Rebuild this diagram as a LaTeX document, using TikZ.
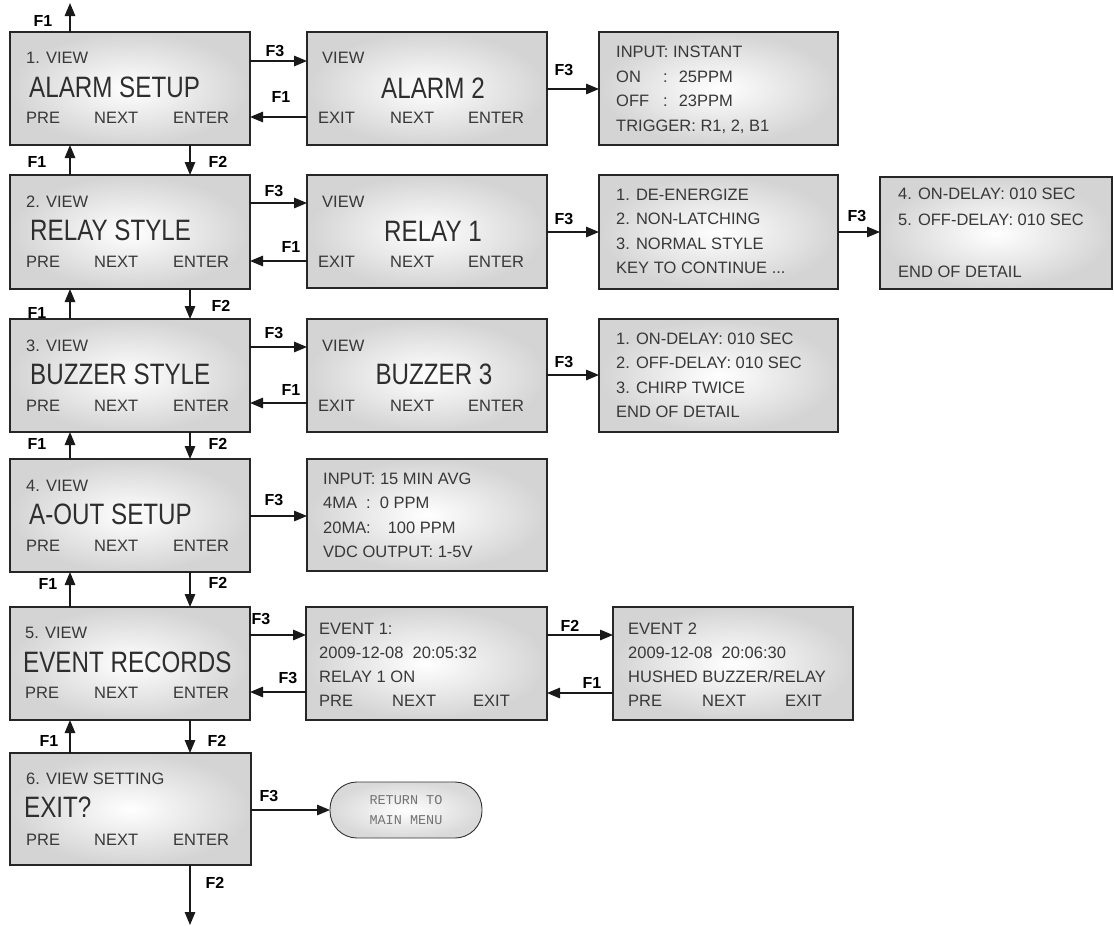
\documentclass[tikz,border=0pt]{standalone}
\usepackage{fontspec}
\setmainfont{Liberation Sans}
\newfontfamily\condf[FakeStretch=0.82]{Liberation Sans}
\newfontfamily\monof{Liberation Mono}
\usetikzlibrary{arrows.meta,calc}
\begin{document}
\begin{tikzpicture}[x=1pt,y=-1pt,
  box/.style={rectangle, draw=black!85, line width=1.3pt, inner color=white, outer color=black!17, inner sep=0pt, outer sep=0pt, anchor=north west},
  oval/.style={rectangle, rounded corners=27pt, draw=black!80, line width=0.9pt, inner color=white, outer color=black!15, inner sep=0pt, outer sep=0pt, anchor=north west, minimum width=152pt, minimum height=56pt},
  sm/.style={font=\fontsize{16.5}{20}\selectfont, text=black!78, anchor=base west, inner sep=0pt},
  big/.style={font=\condf\fontsize{29.5}{30}\selectfont, text=black!82, anchor=base west, inner sep=0pt},
  bigc/.style={big, anchor=base},
  mono/.style={font=\monof\fontsize{13.5}{14}\selectfont, text=black!55, inner sep=0pt},
  key/.style={font=\bfseries\fontsize{16}{18}\selectfont, inner sep=0pt},
  arr/.style={line width=1.4pt, draw=black!90, -{Triangle[length=13pt,width=10.5pt]}}
]
\useasboundingbox (0,0) rectangle (1114,926);
% ---------- key labels (drawn first) ----------
\node[key] (k0)  at (43,21) {F1};
\node[key] (k1a) at (275,51) {F3};
\node[key] (k1b) at (281,97) {F1};
\node[key] (k1c) at (564,70) {F3};
\node[key] (k12a) at (37,162) {F1};
\node[key] (k12b) at (218,162) {F2};
\node[key] (k2a) at (274,191) {F3};
\node[key] (k2b) at (291,247) {F1};
\node[key] (k2c) at (564,219) {F3};
\node[key] (k2d) at (857,216) {F3};
\node[key] (k23a) at (37,313) {F1};
\node[key] (k23b) at (221,306) {F2};
\node[key] (k3a) at (274,333) {F3};
\node[key] (k3b) at (291,390) {F1};
\node[key] (k3c) at (564,362) {F3};
\node[key] (k34a) at (37,444) {F1};
\node[key] (k34b) at (218,444) {F2};
\node[key] (k4a) at (274,500) {F3};
\node[key] (k45a) at (48,584) {F1};
\node[key] (k45b) at (218,583) {F2};
\node[key] (k5a) at (261,619) {F3};
\node[key] (k5b) at (288,678) {F3};
\node[key] (k5c) at (570,626) {F2};
\node[key] (k5d) at (592,683) {F1};
\node[key] (k56a) at (49,741) {F1};
\node[key] (k56b) at (217,741) {F2};
\node[key] (k6a) at (269,796) {F3};
\node[key] (k6b) at (215,883) {F2};
% ---------- boxes ----------
\node[box, minimum width=240pt, minimum height=113pt] (L1) at (10,32) {};
\node[box, minimum width=240pt, minimum height=113pt] (M1) at (307,32) {};
\node[box, minimum width=239pt, minimum height=113pt] (D1) at (599,32) {};
\node[box, minimum width=240pt, minimum height=114pt] (L2) at (10,175) {};
\node[box, minimum width=240pt, minimum height=113pt] (M2) at (307,175) {};
\node[box, minimum width=239pt, minimum height=114pt] (D2) at (599,175) {};
\node[box, minimum width=232pt, minimum height=112pt] (E2) at (880,177) {};
\node[box, minimum width=240pt, minimum height=113pt] (L3) at (10,319) {};
\node[box, minimum width=240pt, minimum height=113pt] (M3) at (307,319) {};
\node[box, minimum width=239pt, minimum height=113pt] (D3) at (599,319) {};
\node[box, minimum width=240pt, minimum height=113pt] (L4) at (10,459) {};
\node[box, minimum width=240pt, minimum height=112pt] (D4) at (307,459) {};
\node[box, minimum width=240pt, minimum height=113pt] (L5) at (10,607) {};
\node[box, minimum width=241pt, minimum height=113pt] (V1) at (306,607) {};
\node[box, minimum width=240pt, minimum height=113pt] (V2) at (613,607) {};
\node[box, minimum width=241pt, minimum height=112pt] (L6) at (10,753) {};
\node[oval] (R6) at (330,782) {};
% ---------- texts: left column ----------
\node[sm] (l1a) at (26,63) {1. VIEW};
\node[big] (l1b) at (29,97) {ALARM SETUP};
\node[sm] (l1c) at (26,123) {PRE};
\node[sm] (l1d) at (94,123) {NEXT};
\node[sm] (l1e) at (173,123) {ENTER};
\node[sm] (l2a) at (26,207) {2. VIEW};
\node[big] (l2b) at (30,240) {RELAY STYLE};
\node[sm] (l2c) at (26,267) {PRE};
\node[sm] (l2d) at (94,267) {NEXT};
\node[sm] (l2e) at (173,267) {ENTER};
\node[sm] (l3a) at (26,351) {3. VIEW};
\node[big] (l3b) at (30,384) {BUZZER STYLE};
\node[sm] (l3c) at (26,411) {PRE};
\node[sm] (l3d) at (94,411) {NEXT};
\node[sm] (l3e) at (173,411) {ENTER};
\node[sm] (l4a) at (26,491) {4. VIEW};
\node[big] (l4b) at (29,524) {A-OUT SETUP};
\node[sm] (l4c) at (26,551) {PRE};
\node[sm] (l4d) at (94,551) {NEXT};
\node[sm] (l4e) at (173,551) {ENTER};
\node[sm] (l5a) at (25,638) {5. VIEW};
\node[big] (l5b) at (23,672) {EVENT RECORDS};
\node[sm] (l5c) at (25,698) {PRE};
\node[sm] (l5d) at (94,698) {NEXT};
\node[sm] (l5e) at (173,698) {ENTER};
\node[sm] (l6a) at (26,784) {6. VIEW SETTING};
\node[big] (l6b) at (24,817) {EXIT?};
\node[sm] (l6c) at (26,845) {PRE};
\node[sm] (l6d) at (94,845) {NEXT};
\node[sm] (l6e) at (173,845) {ENTER};
% ---------- texts: middle column ----------
\node[sm] (m1a) at (322,63) {VIEW};
\node[bigc] (m1b) at (433,98) {ALARM 2};
\node[sm] (m1c) at (318,123) {EXIT};
\node[sm] (m1d) at (390,123) {NEXT};
\node[sm] (m1e) at (468,123) {ENTER};
\node[sm] (m2a) at (322,207) {VIEW};
\node[bigc] (m2b) at (433,241) {RELAY 1};
\node[sm] (m2c) at (318,267) {EXIT};
\node[sm] (m2d) at (390,267) {NEXT};
\node[sm] (m2e) at (468,267) {ENTER};
\node[sm] (m3a) at (322,351) {VIEW};
\node[bigc] (m3b) at (434,384) {BUZZER 3};
\node[sm] (m3c) at (318,411) {EXIT};
\node[sm] (m3d) at (390,411) {NEXT};
\node[sm] (m3e) at (468,411) {ENTER};
% ---------- texts: detail boxes ----------
\node[sm] (d1a) at (616,57) {INPUT: INSTANT};
\node[sm] (d1b) at (616,82) {\makebox[47pt][l]{ON}:\hspace{11pt}25PPM};
\node[sm] (d1c) at (616,106.5) {\makebox[47pt][l]{OFF}:\hspace{11pt}23PPM};
\node[sm] (d1d) at (616,131) {TRIGGER: R1, 2, B1};
\node[sm] (d2a) at (616,200) {1. DE-ENERGIZE};
\node[sm] (d2b) at (616,224.5) {2. NON-LATCHING};
\node[sm] (d2c) at (616,249) {3. NORMAL STYLE};
\node[sm] (d2d) at (616,273.5) {KEY TO CONTINUE ...};
\node[sm] (e2a) at (898,199) {4. ON-DELAY: 010 SEC};
\node[sm] (e2b) at (898,225) {5. OFF-DELAY: 010 SEC};
\node[sm] (e2c) at (898,277) {END OF DETAIL};
\node[sm] (d3a) at (616,344) {1. ON-DELAY: 010 SEC};
\node[sm] (d3b) at (616,368.5) {2. OFF-DELAY: 010 SEC};
\node[sm] (d3c) at (616,393) {3. CHIRP TWICE};
\node[sm] (d3d) at (616,417.5) {END OF DETAIL};
\node[sm] (d4a) at (323,484) {INPUT: 15 MIN AVG};
\node[sm] (d4b) at (323,508.5) {\makebox[43pt][l]{4MA}:\hspace{9pt}0 PPM};
\node[sm] (d4c) at (323,533) {\makebox[43pt][l]{20MA}:\hspace{17pt}100 PPM};
\node[sm] (d4d) at (323,557.5) {VDC OUTPUT: 1-5V};
\node[sm] (v1a) at (319,634) {EVENT 1:};
\node[sm] (v1b) at (319,658) {2009-12-08\ \ 20:05:32};
\node[sm] (v1c) at (319,682) {RELAY 1 ON};
\node[sm] (v1d) at (319,706) {PRE};
\node[sm] (v1e) at (392,706) {NEXT};
\node[sm] (v1f) at (473,706) {EXIT};
\node[sm] (v2a) at (628,634) {EVENT 2};
\node[sm] (v2b) at (628,658) {2009-12-08\ \ 20:06:30};
\node[sm] (v2c) at (628,682) {HUSHED BUZZER/RELAY};
\node[sm] (v2d) at (628,706) {PRE};
\node[sm] (v2e) at (702,706) {NEXT};
\node[sm] (v2f) at (785,706) {EXIT};
\node[mono] (r6a) at (406,800) {RETURN TO};
\node[mono] (r6b) at (406,820) {MAIN MENU};
% ---------- connectors ----------
\coordinate (top) at (70,3);
\coordinate (bot) at (190,925);
\draw[arr] ($(L1.north west)+(60,0)$) -- (top);
% row 1
\draw[arr] ($(L1.north east)+(0,29)$) coordinate (t) -- (t -| M1.west);
\draw[arr] ($(M1.north west)+(0,85)$) coordinate (t) -- (t -| L1.east);
\draw[arr] ($(M1.north east)+(0,57)$) coordinate (t) -- (t -| D1.west);
% row 2
\draw[arr] ($(L2.north east)+(0,28)$) coordinate (t) -- (t -| M2.west);
\draw[arr] ($(M2.north west)+(0,86)$) coordinate (t) -- (t -| L2.east);
\draw[arr] ($(M2.north east)+(0,57)$) coordinate (t) -- (t -| D2.west);
\draw[arr] ($(D2.north east)+(0,57)$) coordinate (t) -- (t -| E2.west);
% row 3
\draw[arr] ($(L3.north east)+(0,28)$) coordinate (t) -- (t -| M3.west);
\draw[arr] ($(M3.north west)+(0,84)$) coordinate (t) -- (t -| L3.east);
\draw[arr] ($(M3.north east)+(0,56)$) coordinate (t) -- (t -| D3.west);
% row 4
\draw[arr] ($(L4.north east)+(0,57)$) coordinate (t) -- (t -| D4.west);
% row 5
\draw[arr] ($(L5.north east)+(0,28)$) coordinate (t) -- (t -| V1.west);
\draw[arr] ($(V1.north west)+(0,85)$) coordinate (t) -- (t -| L5.east);
\draw[arr] ($(V1.north east)+(0,28)$) coordinate (t) -- (t -| V2.west);
\draw[arr] ($(V2.north west)+(0,86)$) coordinate (t) -- (t -| V1.east);
% row 6
\draw[arr] (L6.east |- R6.west) -- (R6.west);
% vertical F1 / F2
\foreach \u/\l in {L1/L2, L2/L3, L3/L4, L4/L5, L5/L6}{
  \draw[arr] ($(\l.north west)+(60,0)$) coordinate (t) -- (t |- \u.south);
  \draw[arr] ($(\u.south west)+(180,0)$) coordinate (t) -- (t |- \l.north);
}
\draw[arr] ($(L6.south west)+(180,0)$) -- (bot);
\end{tikzpicture}
\end{document}
